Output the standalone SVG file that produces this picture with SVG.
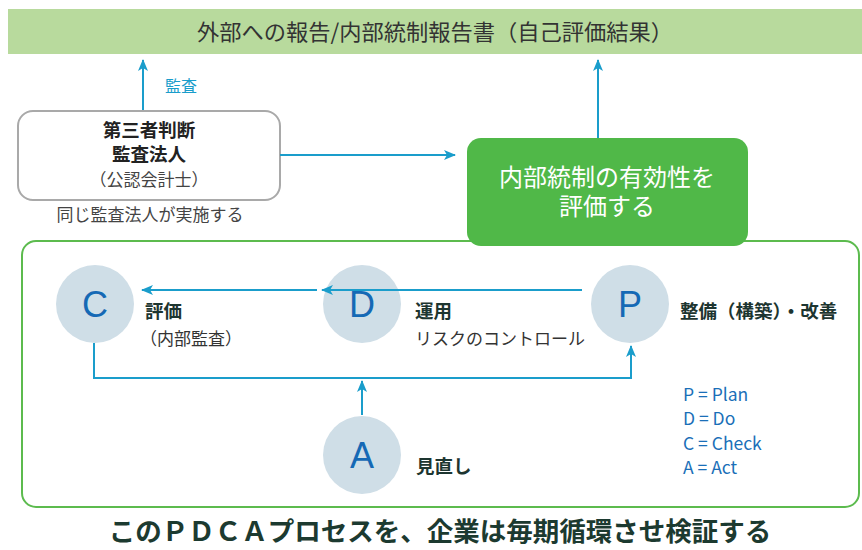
<svg xmlns="http://www.w3.org/2000/svg" width="862" height="550" viewBox="0 0 862 550">
<defs>
<marker id="ah" viewBox="0 0 12 10" refX="11" refY="5" markerWidth="12" markerHeight="10" markerUnits="userSpaceOnUse" orient="auto">
<path d="M0,0 L12,5 L0,10 L3,5 Z" fill="#1a9dcb"/>
</marker>
<style>
text{font-family:"Noto Sans CJK JP","Noto Sans",sans-serif;}
.conn{stroke:#1a9dcb;stroke-width:2;fill:none;}
.circ{fill:#cfdee7;}
.letter{font-family:"Liberation Sans","Noto Sans",sans-serif;font-size:36px;fill:#1569b5;text-anchor:middle;}
.lb{font-size:18.5px;font-weight:bold;fill:#1d3530;}
.ln{font-size:17px;fill:#333;}
.leg{font-family:"Noto Sans CJK JP",sans-serif;font-size:17.5px;fill:#1a6fb8;}
</style>
</defs>
<rect width="862" height="550" fill="#fff"/>
<g id="banner">
<rect x="8" y="9" width="854" height="45" fill="#b8da9d"/>
<text x="435" y="40" font-size="22" fill="#333" text-anchor="middle" textLength="476" lengthAdjust="spacingAndGlyphs">外部への報告/内部統制報告書（自己評価結果）</text>
</g>
<g id="container">
<rect x="22" y="241" width="837" height="266" rx="14" fill="none" stroke="#5cbb4e" stroke-width="2"/>
</g>
<g id="auditor">
<rect x="18" y="111" width="262" height="89" rx="15" fill="#fff" stroke="#a9a9a9" stroke-width="2"/>
<text x="149" y="137" font-size="18.5" font-weight="bold" fill="#222" text-anchor="middle">第三者判断</text>
<text x="149" y="161" font-size="18.5" font-weight="bold" fill="#222" text-anchor="middle">監査法人</text>
<text x="149" y="186" font-size="17" fill="#444" text-anchor="middle">（公認会計士）</text>
<text x="150" y="221" font-size="17" fill="#444" text-anchor="middle">同じ監査法人が実施する</text>
</g>
<g id="evaluate">
<rect x="467" y="138" width="281" height="108" rx="14" fill="#50b848"/>
<text x="607" y="186" font-size="24" fill="#fff" text-anchor="middle">内部統制の有効性を</text>
<text x="607" y="215" font-size="24" fill="#fff" text-anchor="middle">評価する</text>
</g>
<g id="nodeC">
<circle class="circ" cx="95" cy="304" r="39"/>
<text class="letter" x="95" y="317">C</text>
<text class="lb" x="145" y="318">評価</text>
<text class="ln" x="140" y="345">（内部監査）</text>
</g>
<g id="nodeD">
<circle class="circ" cx="362" cy="304" r="39"/>
<text class="letter" x="362" y="317">D</text>
<text class="lb" x="415" y="318">運用</text>
<text class="ln" x="415" y="345">リスクのコントロール</text>
</g>
<g id="nodeP">
<circle class="circ" cx="630" cy="304" r="39"/>
<text class="letter" x="630" y="317">P</text>
<text class="lb" x="680" y="318">整備（構築）・改善</text>
</g>
<g id="nodeA">
<circle class="circ" cx="362" cy="455" r="39"/>
<text class="letter" x="362" y="468">A</text>
<text class="lb" x="416" y="473">見直し</text>
</g>
<g id="legend">
<text class="leg" x="683" y="401">P = Plan</text>
<text class="leg" x="683" y="425">D = Do</text>
<text class="leg" x="683" y="450">C = Check</text>
<text class="leg" x="683" y="474">A = Act</text>
</g>
<g id="connectors">
<line class="conn" x1="143" y1="110" x2="143" y2="60" marker-end="url(#ah)"/>
<text x="165" y="92" font-size="16" fill="#1a9dcb">監査</text>
<line class="conn" x1="598" y1="138" x2="598" y2="60" marker-end="url(#ah)"/>
<line class="conn" x1="280" y1="155" x2="455" y2="155" marker-end="url(#ah)"/>
<line class="conn" x1="582" y1="290" x2="322" y2="290" marker-end="url(#ah)"/>
<line class="conn" x1="317" y1="290" x2="142" y2="290" marker-end="url(#ah)"/>
<polyline class="conn" points="94,343 94,378 631,378 631,346" marker-end="url(#ah)"/>
<line class="conn" x1="362" y1="415" x2="362" y2="381" marker-end="url(#ah)"/>
</g>
<g id="footer">
<text x="440" y="541" font-size="26.5" font-weight="bold" fill="#1c3a30" text-anchor="middle">このＰＤＣＡプロセスを、企業は毎期循環させ検証する</text>
</g>
</svg>
